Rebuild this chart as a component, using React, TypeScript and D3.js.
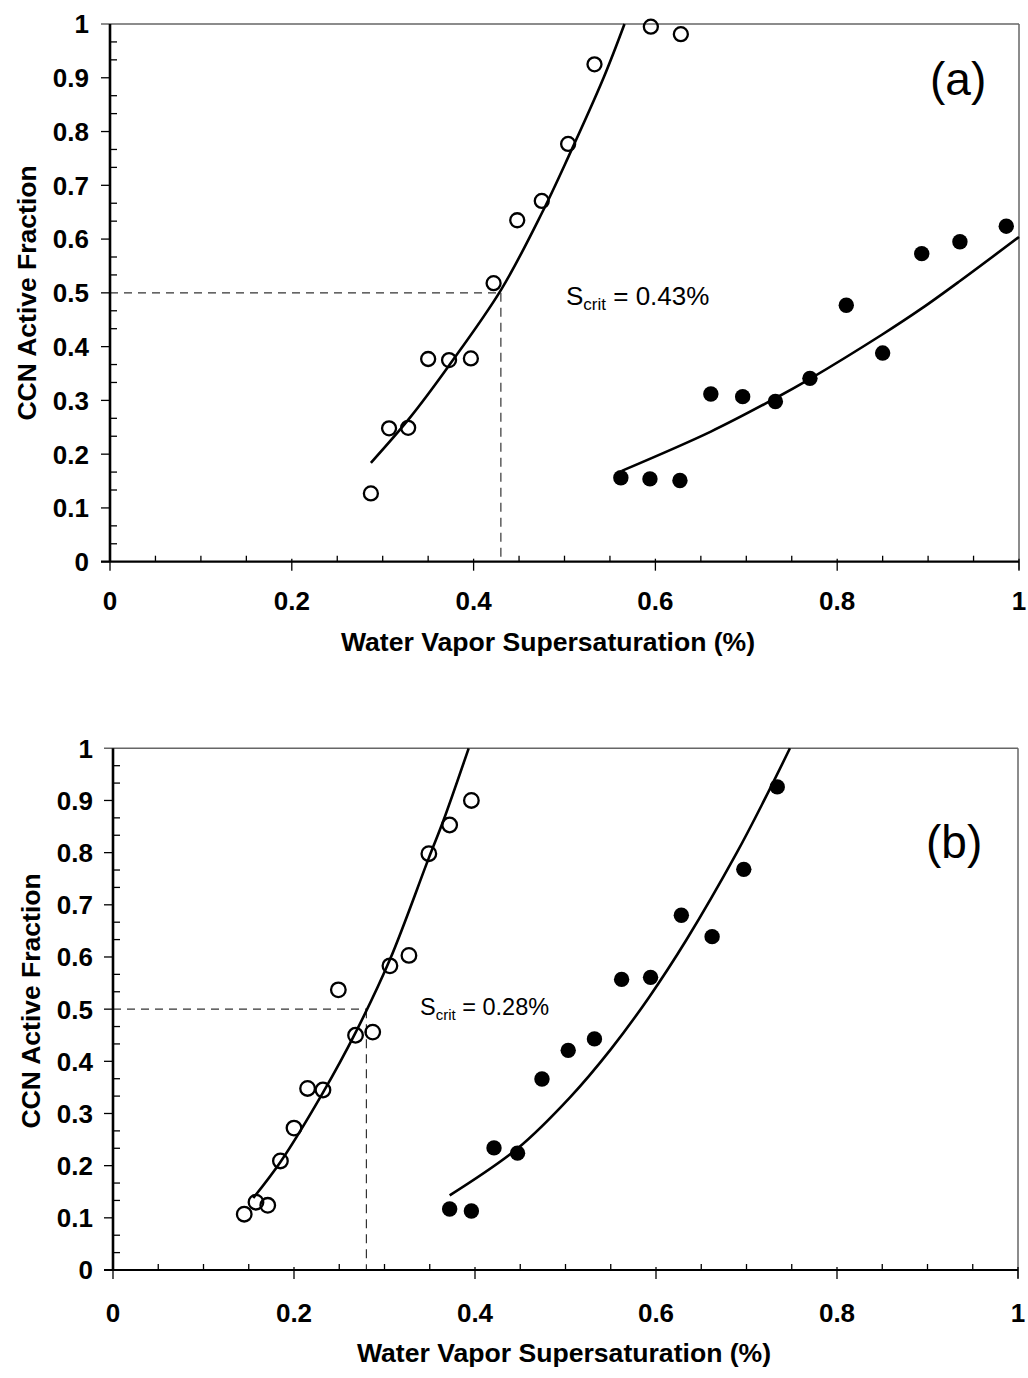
import React from "react";
import * as d3 from "d3";

// ---------- data ----------
const xTickValues = [0, 0.2, 0.4, 0.6, 0.8, 1];
const xTickLabels = ["0", "0.2", "0.4", "0.6", "0.8", "1"];
const yTickValues = [0, 0.1, 0.2, 0.3, 0.4, 0.5, 0.6, 0.7, 0.8, 0.9, 1];
const yTickLabels = ["0", "0.1", "0.2", "0.3", "0.4", "0.5", "0.6", "0.7", "0.8", "0.9", "1"];

// Panel (a)
const aOpenX = [0.287, 0.307, 0.328, 0.350, 0.373, 0.397, 0.422, 0.448, 0.475, 0.504, 0.533, 0.595, 0.628];
const aOpenY = [0.127, 0.248, 0.249, 0.377, 0.375, 0.378, 0.518, 0.635, 0.671, 0.777, 0.925, 0.995, 0.981];
const aFilledX = [0.562, 0.594, 0.627, 0.661, 0.696, 0.732, 0.770, 0.810, 0.850, 0.893, 0.935, 0.986];
const aFilledY = [0.156, 0.154, 0.151, 0.312, 0.307, 0.298, 0.341, 0.477, 0.388, 0.573, 0.595, 0.624];
const aOpenFitX = [0.287, 0.33, 0.373, 0.43, 0.475, 0.504, 0.543, 0.566];
const aOpenFitY = [0.184, 0.268, 0.365, 0.505, 0.648, 0.752, 0.9, 1.0];
const aFilledFitX = [0.563, 0.661, 0.732, 0.770, 0.850, 0.893, 0.935, 1.0];
const aFilledFitY = [0.169, 0.242, 0.304, 0.340, 0.423, 0.471, 0.522, 0.604];
const aScrit = 0.43;
const aScritLabel = " = 0.43%";

// Panel (b)
const bOpenX = [0.145, 0.158, 0.171, 0.185, 0.200, 0.215, 0.232, 0.249, 0.268, 0.287, 0.306, 0.327, 0.349, 0.372, 0.396];
const bOpenY = [0.107, 0.130, 0.124, 0.209, 0.272, 0.348, 0.345, 0.537, 0.450, 0.456, 0.583, 0.603, 0.798, 0.853, 0.900];
const bFilledX = [0.372, 0.396, 0.421, 0.447, 0.474, 0.503, 0.532, 0.562, 0.594, 0.628, 0.662, 0.697, 0.734];
const bFilledY = [0.117, 0.113, 0.234, 0.224, 0.366, 0.421, 0.443, 0.557, 0.561, 0.680, 0.639, 0.768, 0.926];
const bOpenFitX = [0.155, 0.185, 0.232, 0.268, 0.306, 0.349, 0.365, 0.393];
const bOpenFitY = [0.138, 0.207, 0.340, 0.455, 0.595, 0.790, 0.861, 1.0];
const bFilledFitX = [0.372, 0.447, 0.505, 0.55, 0.592, 0.634, 0.689, 0.72, 0.748];
const bFilledFitY = [0.143, 0.233, 0.331, 0.423, 0.522, 0.634, 0.799, 0.902, 1.0];
const bScrit = 0.28;
const bScritLabel = " = 0.28%";

const yTitle = "CCN Active Fraction";
const xTitle = "Water Vapor Supersaturation (%)";

const FONT = "'Liberation Sans', Arial, Helvetica, sans-serif";

type PanelProps = {
  x0: number; x1: number; yTop: number; yBot: number;
  openX: number[]; openY: number[]; filledX: number[]; filledY: number[];
  openFitX: number[]; openFitY: number[]; filledFitX: number[]; filledFitY: number[];
  scrit: number; scritLabel: string; scritPos: [number, number]; scritSize: number;
  tag: string; tagPos: [number, number];
  yTitlePos: [number, number]; xTitlePos: [number, number];
  yLabelGap: number; xLabelDy: number; rOpen: number; rFilled: number;
};

function Panel(p: PanelProps) {
  const x = d3.scaleLinear().domain([0, 1]).range([p.x0, p.x1]);
  const y = d3.scaleLinear().domain([0, 1]).range([p.yBot, p.yTop]);
  const line = d3
    .line<[number, number]>()
    .x((d) => x(d[0]))
    .y((d) => y(d[1]))
    .curve(d3.curveCatmullRom.alpha(0.5));
  const minorY = d3.range(1, 30).filter((i) => i % 3 !== 0).map((i) => i / 30);
  const minorX = d3.range(1, 20).filter((i) => i % 4 !== 0).map((i) => i / 20);
  const openFit = p.openFitX.map((v, i) => [v, p.openFitY[i]] as [number, number]);
  const filledFit = p.filledFitX.map((v, i) => [v, p.filledFitY[i]] as [number, number]);
  const subSize = Math.round(p.scritSize * 0.65);

  return (
    <g>
      {/* dashed S_crit guides */}
      <line x1={x(0)} x2={x(p.scrit)} y1={y(0.5)} y2={y(0.5)} stroke="#333" strokeWidth={1.2} strokeDasharray="8,6" />
      <line x1={x(p.scrit)} x2={x(p.scrit)} y1={y(0.5)} y2={y(0)} stroke="#333" strokeWidth={1.2} strokeDasharray="9,6" />

      {/* frame top/right */}
      <line x1={x(0) - 9} x2={x(1)} y1={y(1)} y2={y(1)} stroke="#666" strokeWidth={1.5} />
      <line x1={x(1)} x2={x(1)} y1={y(1)} y2={y(0) + 8} stroke="#666" strokeWidth={1.5} />

      {/* fits */}
      <path d={line(openFit) || ""} fill="none" stroke="#000" strokeWidth={2.6} />
      <path d={line(filledFit) || ""} fill="none" stroke="#000" strokeWidth={2.6} />

      {/* y axis */}
      {yTickValues.filter((v) => v < 1).map((v) => (
        <line key={"ym" + v} x1={x(0) - 9} x2={x(0)} y1={y(v)} y2={y(v)} stroke="#000" strokeWidth={1.3} />
      ))}
      {minorY.map((v) => (
        <line key={"yn" + v} x1={x(0)} x2={x(0) + 7} y1={y(v)} y2={y(v)} stroke="#000" strokeWidth={1.3} />
      ))}
      <line x1={x(0)} x2={x(0)} y1={y(1)} y2={y(0)} stroke="#000" strokeWidth={2.6} />
      {yTickValues.map((v, i) => (
        <text key={"yl" + v} x={x(0) - p.yLabelGap} y={y(v)} dy="0.36em" textAnchor="end"
          fontFamily={FONT} fontWeight="bold" fontSize={26} fill="#000">{yTickLabels[i]}</text>
      ))}

      {/* x axis */}
      {xTickValues.map((v) => (
        <line key={"xm" + v} x1={x(v)} x2={x(v)} y1={y(0) - 3} y2={y(0) + 9} stroke="#000" strokeWidth={1.3} />
      ))}
      {minorX.map((v) => (
        <line key={"xn" + v} x1={x(v)} x2={x(v)} y1={y(0)} y2={y(0) - 6} stroke="#000" strokeWidth={1.3} />
      ))}
      <line x1={x(0) - 9} x2={x(1)} y1={y(0)} y2={y(0)} stroke="#000" strokeWidth={2.2} />
      {xTickValues.map((v, i) => (
        <text key={"xl" + v} x={x(v)} y={y(0) + p.xLabelDy} textAnchor="middle"
          fontFamily={FONT} fontWeight="bold" fontSize={26} fill="#000">{xTickLabels[i]}</text>
      ))}

      {/* points */}
      {p.openX.map((v, i) => (
        <circle key={"o" + i} cx={x(v)} cy={y(p.openY[i])} r={p.rOpen} fill="none" stroke="#000" strokeWidth={2.3} />
      ))}
      {p.filledX.map((v, i) => (
        <circle key={"f" + i} cx={x(v)} cy={y(p.filledY[i])} r={p.rFilled} fill="#000" />
      ))}

      {/* annotations */}
      <text x={p.scritPos[0]} y={p.scritPos[1]} fontFamily={FONT} fontSize={p.scritSize} fill="#000" style={{ whiteSpace: "pre" }}>
        S<tspan fontSize={subSize} dy={5}>crit</tspan><tspan dy={-5} fontSize={p.scritSize}>{p.scritLabel}</tspan>
      </text>
      <text x={p.tagPos[0]} y={p.tagPos[1]} fontFamily={FONT} fontSize={46} fill="#000">{p.tag}</text>

      {/* titles */}
      <text transform={`translate(${p.yTitlePos[0]},${p.yTitlePos[1]}) rotate(-90)`} textAnchor="middle"
        fontFamily={FONT} fontWeight="bold" fontSize={26.5} fill="#000">{yTitle}</text>
      <text x={p.xTitlePos[0]} y={p.xTitlePos[1]} textAnchor="middle"
        fontFamily={FONT} fontWeight="bold" fontSize={26.6} fill="#000">{xTitle}</text>
    </g>
  );
}

export default function App() {
  return (
    <svg width={1028} height={1378} viewBox="0 0 1028 1378"
      style={{ position: "absolute", left: 0, top: 0, display: "block", background: "#fff" }}>
      <rect x={0} y={0} width={1028} height={1378} fill="#fff" />
      <Panel
        x0={110} x1={1019} yTop={24} yBot={561.7}
        openX={aOpenX} openY={aOpenY} filledX={aFilledX} filledY={aFilledY}
        openFitX={aOpenFitX} openFitY={aOpenFitY} filledFitX={aFilledFitX} filledFitY={aFilledFitY}
        scrit={aScrit} scritLabel={aScritLabel} scritPos={[566, 305]} scritSize={26}
        tag="(a)" tagPos={[930, 95]}
        yTitlePos={[36, 293]} xTitlePos={[548, 651]}
        yLabelGap={21} xLabelDy={48} rOpen={7} rFilled={7.7}
      />
      <Panel
        x0={113} x1={1018} yTop={748.3} yBot={1270}
        openX={bOpenX} openY={bOpenY} filledX={bFilledX} filledY={bFilledY}
        openFitX={bOpenFitX} openFitY={bOpenFitY} filledFitX={bFilledFitX} filledFitY={bFilledFitY}
        scrit={bScrit} scritLabel={bScritLabel} scritPos={[420, 1015]} scritSize={23.5}
        tag="(b)" tagPos={[926, 858]}
        yTitlePos={[40, 1001]} xTitlePos={[564, 1362]}
        yLabelGap={20} xLabelDy={52} rOpen={7.3} rFilled={7.7}
      />
    </svg>
  );
}
